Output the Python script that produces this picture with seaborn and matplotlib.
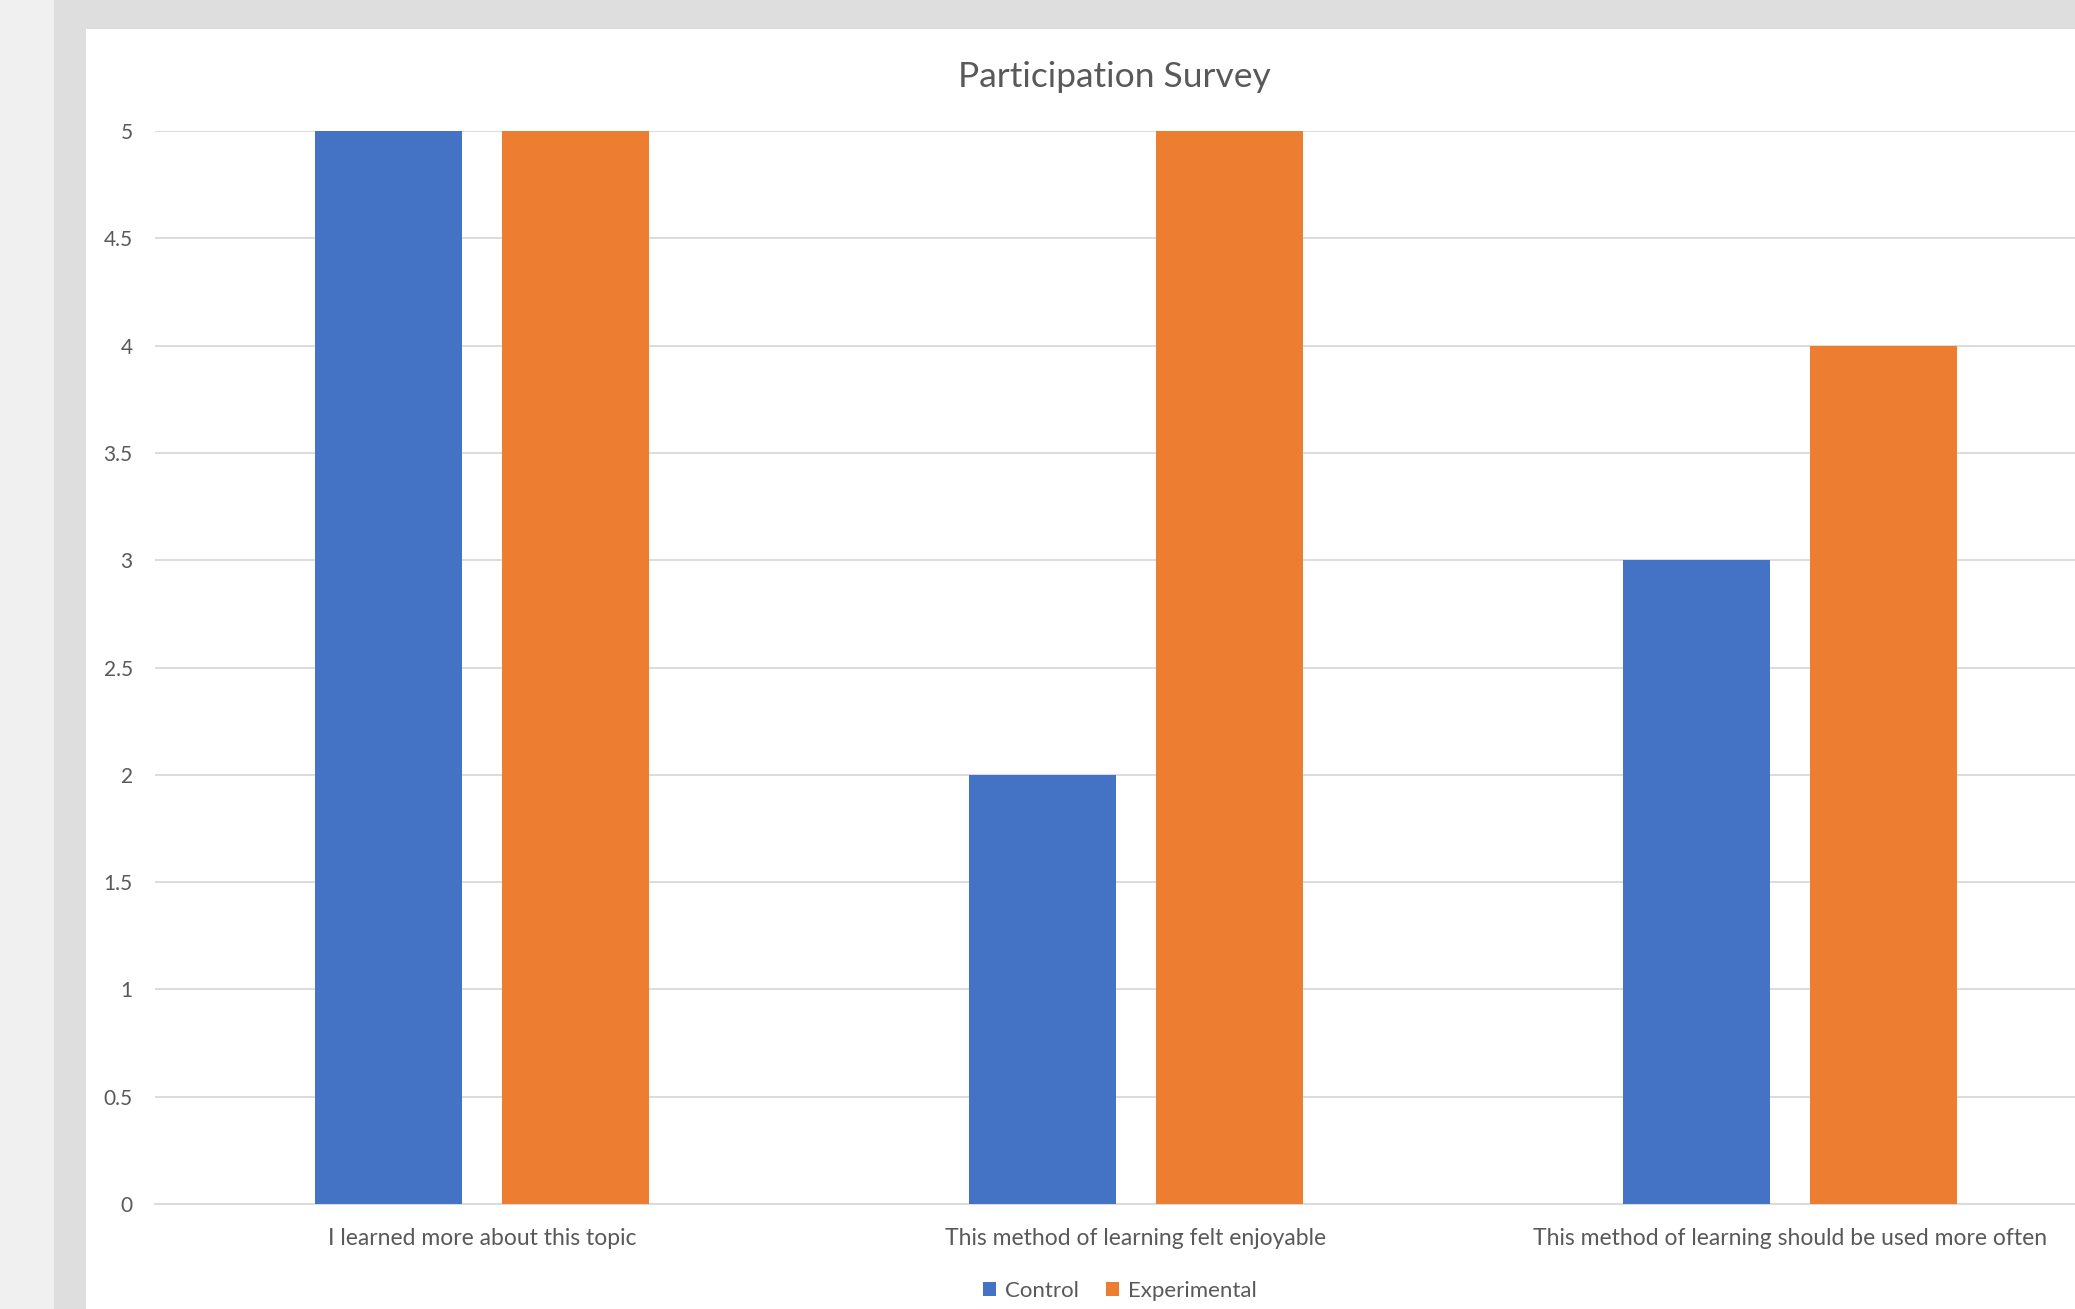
import matplotlib
matplotlib.use("Agg")
import matplotlib.pyplot as plt
from matplotlib.patches import Rectangle
import seaborn as sns
import pandas as pd

categories = ["I learned more about this topic",
              "This method of learning felt enjoyable",
              "This method of learning should be used more often"]
control = [5, 2, 3]
experimental = [5, 5, 4]
series_names = ["Control", "Experimental"]
colors = ["#4472C4", "#ED7D31"]
yticks = [0, 0.5, 1, 1.5, 2, 2.5, 3, 3.5, 4, 4.5, 5]
title = "Participation Survey"

df = pd.DataFrame({
    "category": categories * 2,
    "value": control + experimental,
    "series": [series_names[0]] * 3 + [series_names[1]] * 3,
})

sns.set_theme(style="white")
plt.rcParams['font.family'] = ['Lato', 'DejaVu Sans']

W, H = 2075, 1309
fig = plt.figure(figsize=(W / 100, H / 100), dpi=100)
fig.patch.set_facecolor("#dedede")
# light gray left strip and white chart area
fig.patches.append(Rectangle((0, 0), 54 / W, 1, transform=fig.transFigure,
                             facecolor="#f0f0f0", edgecolor="none", zorder=-10))
fig.patches.append(Rectangle((86 / W, 0), 1, (H - 29) / H, transform=fig.transFigure,
                             facecolor="white", edgecolor="none", zorder=-10))

ax = fig.add_axes([155 / W, (H - 1204) / H, 1962 / W, (1204 - 131) / H])
ax.set_zorder(1)
ax.set_facecolor("none")
sns.barplot(data=df, x="category", y="value", hue="series", palette=colors,
            width=0.573, gap=0.215, saturation=1, ax=ax, zorder=3,
            edgecolor="none", linewidth=0)

ax.set_ylim(0, 5)
ax.set_xlim(-0.5, 2.5)
ax.set_yticks(yticks)
ax.set_yticklabels([f"{t:g}" for t in yticks])
ax.yaxis.grid(True, color="#d9d9d9", linewidth=1.3, zorder=0)
ax.set_axisbelow(True)
for s in ["top", "right", "left"]:
    ax.spines[s].set_visible(False)
ax.spines["bottom"].set_color("#d9d9d9")
ax.spines["bottom"].set_linewidth(1.3)
ax.tick_params(axis="y", length=0, pad=16, labelsize=15, labelcolor="#595959")
ax.tick_params(axis="x", length=0, pad=17, labelsize=16.5, labelcolor="#595959")
ax.set_xlabel("")
ax.set_ylabel("")

fig.text(1114 / W, 1 - 77 / H, title, ha="center", va="center",
         fontsize=25.5, color="#595959")

handles, labels = ax.get_legend_handles_labels()
ax.get_legend().remove()
fig.legend(handles, labels, loc="center", bbox_to_anchor=(1120 / W, 1 - 1291 / H),
           ncol=2, frameon=False, fontsize=16, labelcolor="#595959",
           handlelength=0.6, handleheight=0.6, handletextpad=0.4, columnspacing=1.2)

fig.savefig("out.png", dpi=100)
